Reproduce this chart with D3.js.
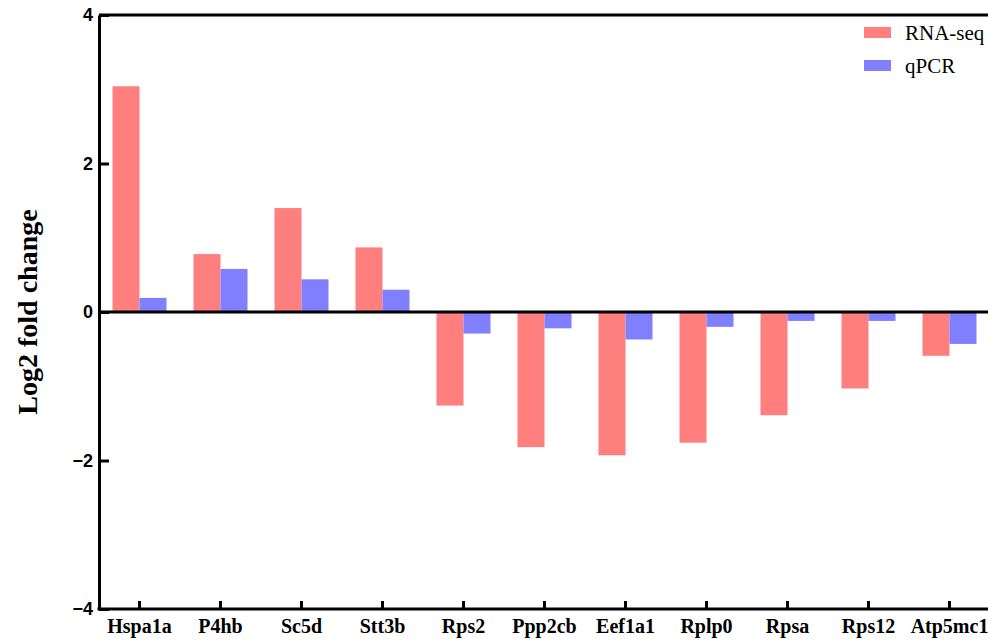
<!DOCTYPE html>
<html>
<head>
<meta charset="utf-8">
<script src="https://cdn.jsdelivr.net/npm/d3@7"></script>
<style>
  body { margin: 0; background: #fff; }
  svg { display: block; }
</style>
</head>
<body>
<svg id="chart"></svg>
<script>
// values
const genes = ["Hspa1a", "P4hb", "Sc5d", "Stt3b", "Rps2", "Ppp2cb", "Eef1a1", "Rplp0", "Rpsa", "Rps12", "Atp5mc1"];
const rnaSeq = [3.04, 0.78, 1.40, 0.87, -1.26, -1.82, -1.93, -1.76, -1.39, -1.03, -0.59];
const qPCR = [0.19, 0.58, 0.44, 0.30, -0.29, -0.22, -0.37, -0.20, -0.12, -0.12, -0.43];
const series = ["RNA-seq", "qPCR"];
const yTicks = [-4, -2, 0, 2, 4];

const width = 988;
const height = 641;
const margin = { top: 15, right: -2, bottom: 32, left: 99 };
const colors = { "RNA-seq": "#ff7f7f", "qPCR": "#7f7fff" };

const svg = d3.select("#chart").attr("width", width).attr("height", height);

const x = d3
  .scaleBand()
  .domain(genes)
  .range([margin.left, width - margin.right])
  .paddingInner(1 / 3)
  .paddingOuter(1 / 6);

const xSub = d3.scaleBand().domain(series).range([0, x.bandwidth()]);

const y = d3
  .scaleLinear()
  .domain([-4, 4])
  .range([height - margin.bottom, margin.top]);

const rows = genes.map((g, i) => ({ gene: g, values: [
  { key: "RNA-seq", value: rnaSeq[i] },
  { key: "qPCR", value: qPCR[i] },
] }));

// bars
svg
  .append("g")
  .selectAll("g")
  .data(rows)
  .join("g")
  .attr("transform", (d) => `translate(${x(d.gene)},0)`)
  .selectAll("rect")
  .data((d) => d.values)
  .join("rect")
  .attr("x", (d) => xSub(d.key))
  .attr("width", xSub.bandwidth())
  .attr("y", (d) => Math.min(y(d.value), y(0)))
  .attr("height", (d) => Math.abs(y(d.value) - y(0)))
  .attr("fill", (d) => colors[d.key]);

// zero line and top frame line
svg
  .selectAll(".hline")
  .data([0, 4])
  .join("line")
  .attr("x1", margin.left)
  .attr("x2", width)
  .attr("y1", (d) => y(d))
  .attr("y2", (d) => y(d))
  .attr("stroke", "#000")
  .attr("stroke-width", 3);

// y axis
const yAxis = svg
  .append("g")
  .attr("transform", `translate(${margin.left},0)`)
  .call(d3.axisLeft(y).tickValues(yTicks).tickSize(-10).tickSizeOuter(0).tickPadding(6));
yAxis.select(".domain").attr("stroke-width", 3);
yAxis.selectAll(".tick line").attr("stroke-width", 3);
yAxis
  .selectAll(".tick text")
  .attr("font-family", "Liberation Sans, Arial, sans-serif")
  .attr("font-weight", "bold")
  .attr("font-size", 18)
  .attr("fill", "#000");

// x axis
const xAxis = svg
  .append("g")
  .attr("transform", `translate(0,${y(-4)})`)
  .call(d3.axisBottom(x).tickSize(-8).tickSizeOuter(0).tickPadding(10));
xAxis.select(".domain").attr("stroke-width", 3).attr("d", `M${margin.left - 1.5},0H${width}`);
xAxis.selectAll(".tick line").attr("stroke-width", 3);
xAxis
  .selectAll(".tick text")
  .attr("font-family", "Liberation Serif, Times New Roman, serif")
  .attr("font-weight", "bold")
  .attr("font-size", 20)
  .attr("fill", "#000");

// y title
svg
  .append("text")
  .attr("transform", `translate(37,${y(0)}) rotate(-90)`)
  .attr("text-anchor", "middle")
  .attr("font-family", "Liberation Serif, Times New Roman, serif")
  .attr("font-weight", "bold")
  .attr("font-size", 28)
  .text("Log2 fold change");

// legend
const legend = svg
  .append("g")
  .selectAll("g")
  .data(series)
  .join("g")
  .attr("transform", (d, i) => `translate(864,${27 + i * 33})`);
legend
  .append("rect")
  .attr("width", 27)
  .attr("height", 11)
  .attr("fill", (d) => colors[d]);
legend
  .append("text")
  .attr("x", 41)
  .attr("y", 13)
  .attr("font-family", "Liberation Serif, Times New Roman, serif")
  .attr("font-size", 21)
  .text((d) => d);
</script>
</body>
</html>
